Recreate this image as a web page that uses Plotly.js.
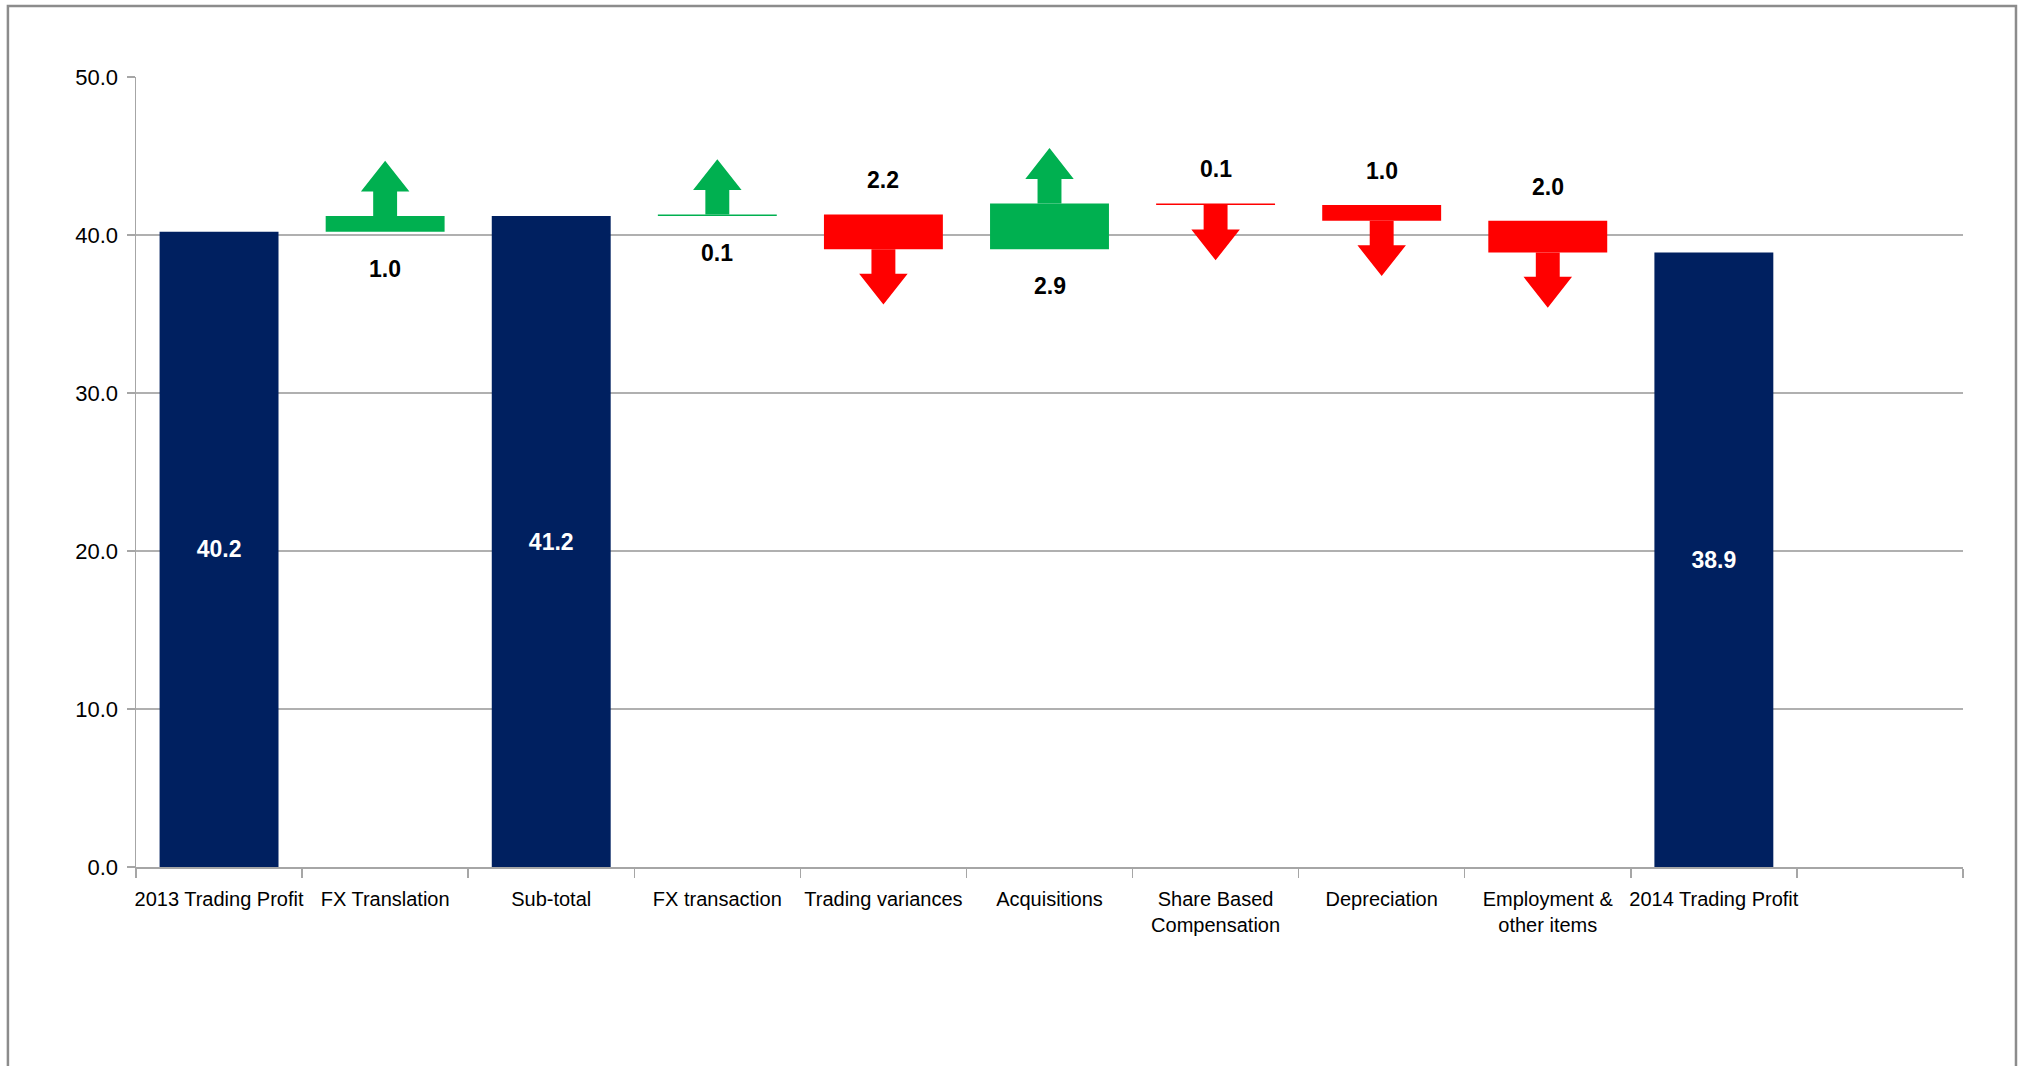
<!DOCTYPE html>
<html>
<head>
<meta charset="utf-8">
<script src="https://cdn.plot.ly/plotly-3.0.1.min.js"></script>
<style>
  html, body { margin: 0; padding: 0; background: #ffffff; }
  #chart { width: 2024px; height: 1066px; }
</style>
</head>
<body>
<div id="chart"></div>
<script>
// ---- data ----
const categories = ['2013 Trading Profit', 'FX Translation', 'Sub-total', 'FX transaction',
  'Trading variances', 'Acquisitions', 'Share Based<br>Compensation', 'Depreciation',
  'Employment &<br>other items', '2014 Trading Profit'];
const values = [40.2, 1.0, 41.2, 0.1, -2.2, 2.9, -0.1, -1.0, -2.0, 38.9];
const measures = ['absolute', 'relative', 'total', 'relative', 'relative', 'relative',
  'relative', 'relative', 'relative', 'total'];
const yTickVals = [0, 10, 20, 30, 40, 50];

// ---- styles ----
const NAVY = '#002060', GREEN = '#00B050', RED = '#FF0000';
const FONT = "'Liberation Sans Narrow', 'Arial Narrow', 'Liberation Sans', Arial, sans-serif";
const BAR_W = 0.716;
const ARROW_LEN = 3.5, HEAD_LEN = 1.95, SHAFT_HALF = 0.072, HEAD_HALF = 0.146;

// ---- compute waterfall geometry from data ----
const xs = categories.map((c, i) => i);
let level = 0;
const tot = {x: [], y: [], text: []};
const inc = {x: [], y: [], base: []};
const dec = {x: [], y: [], base: []};
const arrows = [];
const annotations = [];
values.forEach((v, i) => {
  const m = measures[i];
  if (m === 'absolute' || m === 'total') {
    if (m === 'absolute') level = v;
    tot.x.push(i); tot.y.push(v); tot.text.push(v.toFixed(1));
  } else {
    const start = level;
    const end = level + v;
    const lo = Math.min(start, end), hi = Math.max(start, end);
    if (v >= 0) { inc.x.push(i); inc.y.push(hi - lo); inc.base.push(lo); }
    else { dec.x.push(i); dec.y.push(hi - lo); dec.base.push(lo); }
    const dir = v >= 0 ? 1 : -1;
    const y0 = v >= 0 ? hi : lo;
    const yNeck = y0 + dir * (ARROW_LEN - HEAD_LEN);
    const yTip = y0 + dir * ARROW_LEN;
    arrows.push({
      x: [i - SHAFT_HALF, i - SHAFT_HALF, i - HEAD_HALF, i, i + HEAD_HALF, i + SHAFT_HALF, i + SHAFT_HALF, i - SHAFT_HALF],
      y: [y0, yNeck, yNeck, yTip, yNeck, yNeck, y0, y0],
      color: v >= 0 ? GREEN : RED
    });
    annotations.push({
      x: i, y: v >= 0 ? lo : hi, xref: 'x', yref: 'y',
      text: Math.abs(v).toFixed(1), showarrow: false,
      yanchor: 'middle', yshift: v >= 0 ? -37 : 34,
      font: {family: FONT, size: 23, color: '#000000', weight: 'bold'}
    });
    level = end;
  }
});

const traces = [
  {type: 'bar', x: tot.x, y: tot.y, width: BAR_W, marker: {color: NAVY},
   text: tot.text, textposition: 'inside', insidetextanchor: 'middle', textangle: 0,
   insidetextfont: {family: FONT, size: 23, color: '#ffffff', weight: 'bold'},
   hoverinfo: 'skip', showlegend: false},
  {type: 'bar', x: inc.x, y: inc.y, base: inc.base, width: BAR_W, marker: {color: GREEN},
   hoverinfo: 'skip', showlegend: false},
  {type: 'bar', x: dec.x, y: dec.y, base: dec.base, width: BAR_W, marker: {color: RED},
   hoverinfo: 'skip', showlegend: false}
];
arrows.forEach(a => traces.push({
  type: 'scatter', mode: 'lines', x: a.x, y: a.y, fill: 'toself', fillcolor: a.color,
  line: {width: 0, color: a.color}, hoverinfo: 'skip', showlegend: false
}));

const layout = {
  width: 2024, height: 1066,
  margin: {l: 136, r: 61, t: 77, b: 199},
  paper_bgcolor: '#ffffff', plot_bgcolor: '#ffffff',
  barmode: 'overlay',
  showlegend: false,
  font: {family: FONT, color: '#000000'},
  xaxis: {
    range: [-0.5, 10.5], tickvals: xs, ticktext: categories, ticks: '', tickangle: 0,
    showgrid: false, zeroline: false, showline: true, linecolor: '#a6a6a6', linewidth: 2,
    tickfont: {family: FONT, size: 20, color: '#000000'},
    ticklabelstandoff: 13,
    minor: {tick0: -0.5, dtick: 1, ticks: 'outside', ticklen: 9, tickwidth: 1.5, tickcolor: '#a6a6a6', showgrid: false},
    fixedrange: true
  },
  yaxis: {
    range: [0, 50], tickvals: yTickVals, tickformat: '.1f', ticks: 'outside', ticklen: 8,
    tickwidth: 1.5, tickcolor: '#a6a6a6',
    showgrid: true, gridcolor: '#b0b0b0', gridwidth: 1.5, zeroline: false,
    showline: true, linecolor: '#a6a6a6', linewidth: 1.5,
    tickfont: {family: FONT, size: 22, color: '#000000'},
    ticklabelstandoff: 4,
    fixedrange: true
  },
  annotations: annotations,
  shapes: [{
    type: 'rect', xref: 'paper', yref: 'paper',
    x0: -0.0701, x1: 1.029, y0: -0.27, y1: 1.0899,
    line: {color: '#8c8c8c', width: 2.5}, fillcolor: 'rgba(0,0,0,0)', layer: 'below'
  }]
};

Plotly.newPlot('chart', traces, layout, {staticPlot: true, displayModeBar: false});
</script>
</body>
</html>
